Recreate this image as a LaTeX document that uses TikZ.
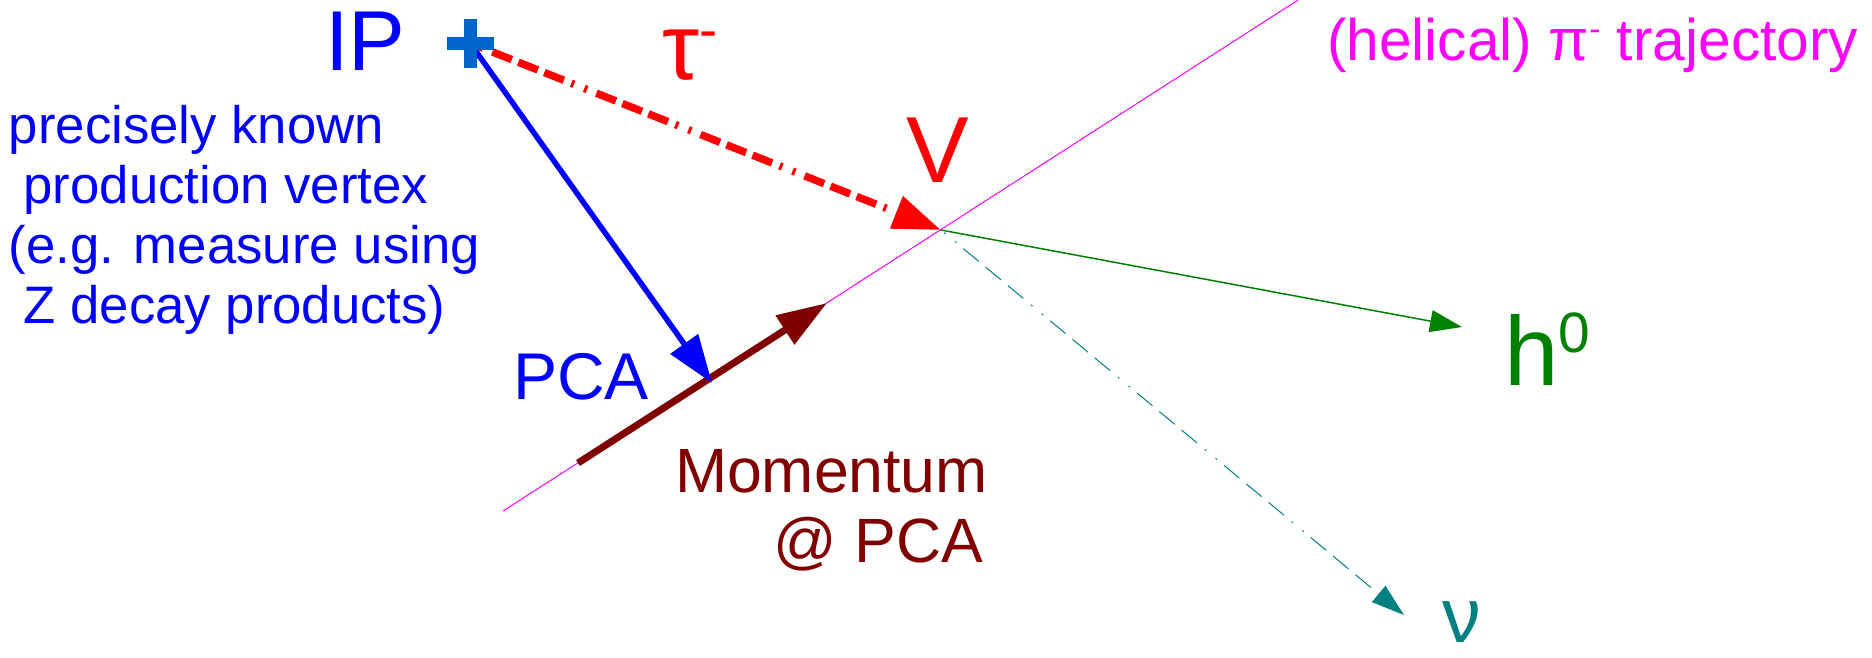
\documentclass[tikz,border=0pt]{standalone}
\usepackage{fontspec}
\setmainfont{Liberation Sans}
\usepackage{graphicx}
\usetikzlibrary{arrows.meta}

\definecolor{ipblue}{HTML}{0066CC}
\definecolor{mommaroon}{HTML}{800000}
\definecolor{hgreen}{HTML}{008000}
\definecolor{nuteal}{HTML}{008080}
\definecolor{trajmag}{HTML}{FF00FF}

\newcommand{\supidx}[1]{\raisebox{0.33em}{\scalebox{0.58}{#1}}}

\begin{document}
\begin{tikzpicture}[
    x=0.1mm, y=-0.1mm,
    every node/.style={inner sep=0pt, outer sep=0pt},
    lbl/.style={anchor=base west, text=#1},
    bigtip/.style={-{Triangle[length=4.8mm,width=3.3mm]}},
    smalltip/.style={-{Triangle[length=3.2mm,width=2.2mm]}},
    dashdotdot/.style={dash pattern=on 2.1mm off 0.7mm on 2.1mm off 0.7mm on 2.1mm off 0.8mm on 0.3mm off 1.1mm on 0.3mm off 1.0mm},
    traj/.style={trajmag, line width=0.1mm},
    tauline/.style={bigtip, red, line width=0.75mm, dashdotdot, dash phase=8.8mm},
    pcaline/.style={bigtip, blue, line width=0.55mm},
    momline/.style={-{Triangle[length=5mm,width=3.3mm]}, mommaroon, line width=0.7mm},
    hline/.style={smalltip, hgreen, line width=0.15mm},
    nuline/.style={-{Triangle[length=3.3mm,width=2.1mm]}, nuteal, line width=0.1mm,
        dash pattern=on 2mm off 0.9mm on 2mm off 0.9mm on 2mm off 1mm on 0.2mm off 1.2mm on 0.2mm off 0.9mm,
        dash phase=8.4mm},
    ipcross/.style={ipblue, line width=1.3mm}
]
\useasboundingbox (0,0) rectangle (1872,657);

% Points of the event
\coordinate (ip)       at (470,43);
\coordinate (vtx)      at (941,230);
\coordinate (pca)      at (712,383);
\coordinate (trajlo)   at (503,511);
\coordinate (trajhi)   at (1298,0);
\coordinate (momstart) at (578,463);
\coordinate (momtip)   at (827,303);
\coordinate (htip)     at (1462,327);
\coordinate (nutip)    at (1404,615);

% Labels (multi-line ones sit on their last line)
\node[lbl=blue, font=\fontsize{24.2}{29}\selectfont] (iplbl) at (325,70) {IP};
\node[lbl=red, font=\fontsize{26.7}{32}\selectfont] (taulbl) at (662,79) {τ\supidx{-}};
\node[lbl=red, font=\fontsize{26.7}{32}\selectfont] (vlbl) at (906,182) {V};
\node[lbl=blue, align=left, font=\fontsize{15}{17.07}\selectfont] (vtxlbl) at (9,323)
  {precisely known\\\ production vertex\\(e.g. measure using\\\ Z decay products)};
\node[lbl=blue, font=\fontsize{18.8}{22}\selectfont] (pcalbl) at (513,399) {PCA};
\node[lbl=mommaroon, align=left, font=\fontsize{17.8}{19.9}\selectfont] (momlbl) at (675,562)
  {Momentum\\\hspace*{1.58em}@ PCA};
\node[lbl=hgreen, font=\fontsize{27.9}{33}\selectfont] (hlbl) at (1504,385) {h\supidx{0}};
\node[lbl=nuteal, font=\fontsize{22}{26}\selectfont] (nulbl) at (1442,642) {ν};
\node[lbl=trajmag, font=\fontsize{16.7}{20}\selectfont] (trajlbl) at (1327,60)
  {(helical) π\supidx{-} trajectory};

% Pion trajectory and momentum at PCA
\draw[traj] (trajlo) -- (trajhi);
\draw[momline] (momstart) -- (momtip);

% Decay products
\draw[hline] (vtx) -- (htip);
\draw[nuline] (vtx) -- (nutip);

% Tau flight and PCA
\draw[tauline] (ip) -- (vtx);
\draw[pcaline] (ip) -- (pca);

% Interaction point
\draw[ipcross] (ip) ++(-23.5,0) -- ++(47,0)
               (ip) ++(0,-24.5) -- ++(0,49);

\end{tikzpicture}
\end{document}
